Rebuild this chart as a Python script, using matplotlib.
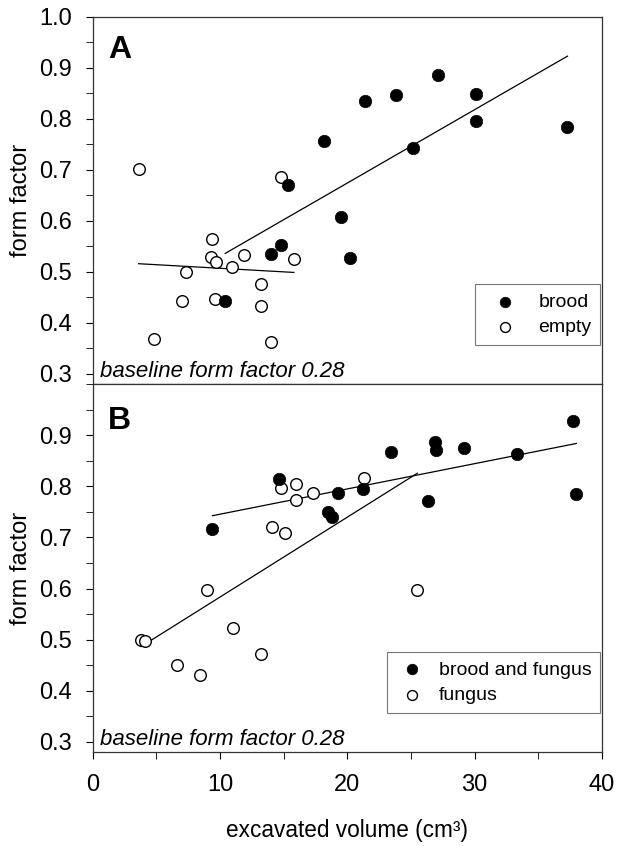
import numpy as np
import matplotlib
matplotlib.use('Agg')
import matplotlib.pyplot as plt
from matplotlib.ticker import MultipleLocator

plt.rcParams['font.family'] = ['Liberation Sans', 'DejaVu Sans']

# panel A
a_brood_x = [10.4, 14.0, 14.75, 15.3, 18.2, 19.5, 20.2, 21.4, 23.8, 25.2, 27.1, 30.1, 30.1, 37.3]
a_brood_y = [0.443, 0.535, 0.553, 0.671, 0.757, 0.608, 0.528, 0.835, 0.846, 0.742, 0.886, 0.848, 0.796, 0.785]
a_empty_x = [3.6, 4.8, 7.0, 7.3, 9.3, 9.4, 9.6, 9.7, 10.9, 11.9, 13.2, 13.2, 14.0, 14.75, 15.8]
a_empty_y = [0.702, 0.369, 0.443, 0.500, 0.530, 0.564, 0.446, 0.520, 0.510, 0.533, 0.476, 0.434, 0.362, 0.686, 0.525]

# panel B
b_bf_x = [9.4, 14.65, 18.5, 18.8, 19.3, 21.2, 23.4, 26.35, 26.9, 27.0, 29.2, 33.3, 37.7, 38.0]
b_bf_y = [0.716, 0.815, 0.750, 0.739, 0.786, 0.794, 0.867, 0.771, 0.886, 0.871, 0.874, 0.863, 0.927, 0.784]
b_f_x = [3.8, 4.1, 6.6, 8.4, 9.0, 11.0, 13.2, 14.1, 14.8, 15.1, 16.0, 16.0, 17.3, 21.3, 25.5]
b_f_y = [0.500, 0.497, 0.451, 0.431, 0.598, 0.523, 0.472, 0.720, 0.796, 0.708, 0.805, 0.773, 0.786, 0.816, 0.597]

fig = plt.figure(figsize=(6.23, 8.46), dpi=100)
axA = fig.add_axes([0.149, 0.546, 0.817, 0.434])
axB = fig.add_axes([0.149, 0.111, 0.817, 0.435])


def fit_line(ax, x, y):
    x = np.asarray(x)
    k, b = np.polyfit(x, y, 1)
    xs = np.array([x.min(), x.max()])
    ax.plot(xs, k * xs + b, color='black', lw=0.9, zorder=2)


def panel(ax, fx, fy, ox, oy, labels, letter, letter_y, leg_pad):
    fit_line(ax, ox, oy)
    fit_line(ax, fx, fy)
    ax.scatter(ox, oy, s=70, facecolor='white', edgecolor='black', linewidth=1.0,
               zorder=3, label=labels[1])
    ax.scatter(fx, fy, s=80, facecolor='black', edgecolor='black', linewidth=0.5,
               zorder=4, label=labels[0])
    ax.set_xlim(0, 40)
    ax.set_ylim(0.28, 1.0)
    ax.yaxis.set_major_locator(MultipleLocator(0.1))
    ax.yaxis.set_minor_locator(MultipleLocator(0.05))
    ax.xaxis.set_major_locator(MultipleLocator(10))
    ax.tick_params(axis='both', which='major', direction='out', length=5,
                   labelsize=17, top=False, right=False)
    ax.tick_params(axis='both', which='minor', direction='out', length=5,
                   top=False, right=False)
    ax.tick_params(axis='y', which='major', pad=10)
    ax.tick_params(axis='x', which='major', pad=11)
    ax.set_ylabel('form factor', fontsize=17, labelpad=5)
    ax.text(0.03, letter_y, letter, transform=ax.transAxes, fontsize=23,
            fontweight='bold', va='top', ha='left')
    ax.text(0.015, 0.006, 'baseline form factor 0.28', transform=ax.transAxes,
            fontsize=16, style='italic', va='bottom', ha='left')
    h, l = ax.get_legend_handles_labels()
    leg = ax.legend(h[::-1], l[::-1], loc='lower right', bbox_to_anchor=(0.997, 0.107),
                    fontsize=14, markerscale=0.85, fancybox=False, framealpha=1,
                    edgecolor='#777777', handletextpad=0.6, handlelength=leg_pad,
                    borderpad=0.45, labelspacing=0.4, borderaxespad=0)
    leg.get_frame().set_linewidth(0.8)
    for sp in ax.spines.values():
        sp.set_linewidth(0.9)
        sp.set_color('#333333')


panel(axA, a_brood_x, a_brood_y, a_empty_x, a_empty_y, ['brood', 'empty'], 'A', 0.95, 2.2)
panel(axB, b_bf_x, b_bf_y, b_f_x, b_f_y, ['brood and fungus', 'fungus'], 'B', 0.94, 1.6)

axA.tick_params(axis='x', labelbottom=False)
axA.set_xticks([10, 20, 30])
axB.xaxis.set_minor_locator(MultipleLocator(5))
axB.set_yticks([0.3, 0.4, 0.5, 0.6, 0.7, 0.8, 0.9])
axB.set_xlabel('excavated volume (cm³)', fontsize=16.3, labelpad=16)

fig.savefig('out.png', dpi=100)
